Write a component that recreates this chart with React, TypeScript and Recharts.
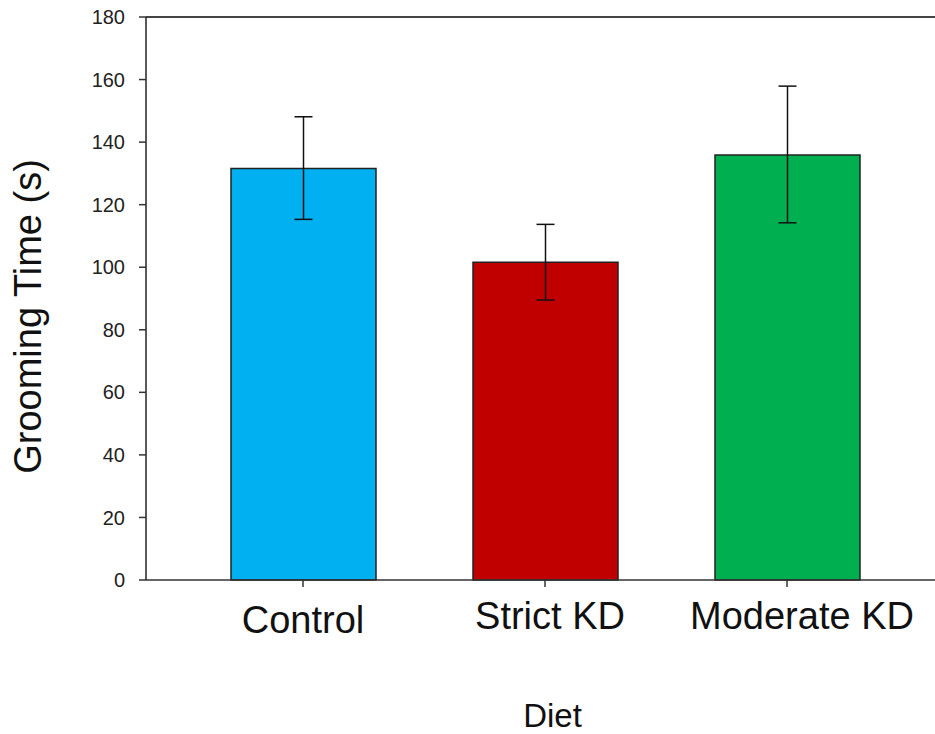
import React from 'react';
import { BarChart, Bar, XAxis, YAxis, ErrorBar, Cell, ReferenceLine, Label } from 'recharts';

const categories = ['Control', 'Strict KD', 'Moderate KD'];
const means = [131.6, 101.6, 135.9];
const upper = [148.1, 113.7, 157.9];
const lower = [115.3, 89.5, 114.2];
const colors = ['#00B0F0', '#C00000', '#00B050'];
const yTicks = [0, 20, 40, 60, 80, 100, 120, 140, 160, 180];

const data = categories.map((c, i) => ({
  diet: c,
  value: means[i],
  err: [means[i] - lower[i], upper[i] - means[i]],
}));

const FONT = '"Liberation Sans", Arial, sans-serif';
const labelDx = [0, 5, 15];
const labelDy = [4, 0, 0];

const XTick = (props: any) => {
  const { x, y, payload, index } = props;
  return (
    <text
      x={x + (labelDx[index] || 0)}
      y={y + (labelDy[index] || 0)}
      dy="0.71em"
      textAnchor="middle"
      fontFamily={FONT}
      fontSize={38}
      fill="#111"
    >
      {payload.value}
    </text>
  );
};

export default function App() {
  return (
    <div style={{ position: 'absolute', left: 0, top: 0, background: '#fff' }}>
      <BarChart width={935} height={734} data={data} margin={{ top: 17, right: 0, left: 0, bottom: 0 }}>
        <XAxis
          dataKey="diet"
          height={154}
          padding={{ left: 36, right: 27 }}
          axisLine={{ stroke: '#333', strokeWidth: 1.5 }}
          tickLine={{ stroke: '#333', strokeWidth: 1.5 }}
          tickSize={7}
          tickMargin={15}
          tick={<XTick />}
          interval={0}
        >
          <Label
            content={(p: any) => {
              const vb = p.viewBox;
              return (
                <text x={vb.x + vb.width / 2 + 12} y={vb.y + 147} textAnchor="middle" fontFamily={FONT} fontSize={33} fill="#111">
                  Diet
                </text>
              );
            }}
          />
        </XAxis>
        <YAxis
          width={146}
          domain={[0, 180]}
          ticks={yTicks}
          interval={0}
          axisLine={{ stroke: '#222', strokeWidth: 1.5 }}
          tickLine={{ stroke: '#333', strokeWidth: 1.5 }}
          tickSize={7}
          tickMargin={14}
          tick={{ fontFamily: FONT, fontSize: 20, fill: '#222' }}
        >
          <Label
            content={(p: any) => {
              const vb = p.viewBox;
              const cx = 41;
              const cy = vb.y + vb.height / 2 + 18;
              return (
                <text x={cx} y={cy} transform={`rotate(-90 ${cx} ${cy})`} textAnchor="middle" fontFamily={FONT} fontSize={38} fill="#111">
                  Grooming Time (s)
                </text>
              );
            }}
          />
        </YAxis>
        <ReferenceLine y={180} stroke="#444" strokeWidth={2} />
        <Bar dataKey="value" barSize={145} stroke="#222" strokeWidth={1.5} isAnimationActive={false}>
          {data.map((d, i) => (
            <Cell key={d.diet} fill={colors[i]} />
          ))}
          <ErrorBar dataKey="err" width={9} stroke="#111" strokeWidth={1.5} isAnimationActive={false} />
        </Bar>
      </BarChart>
    </div>
  );
}
